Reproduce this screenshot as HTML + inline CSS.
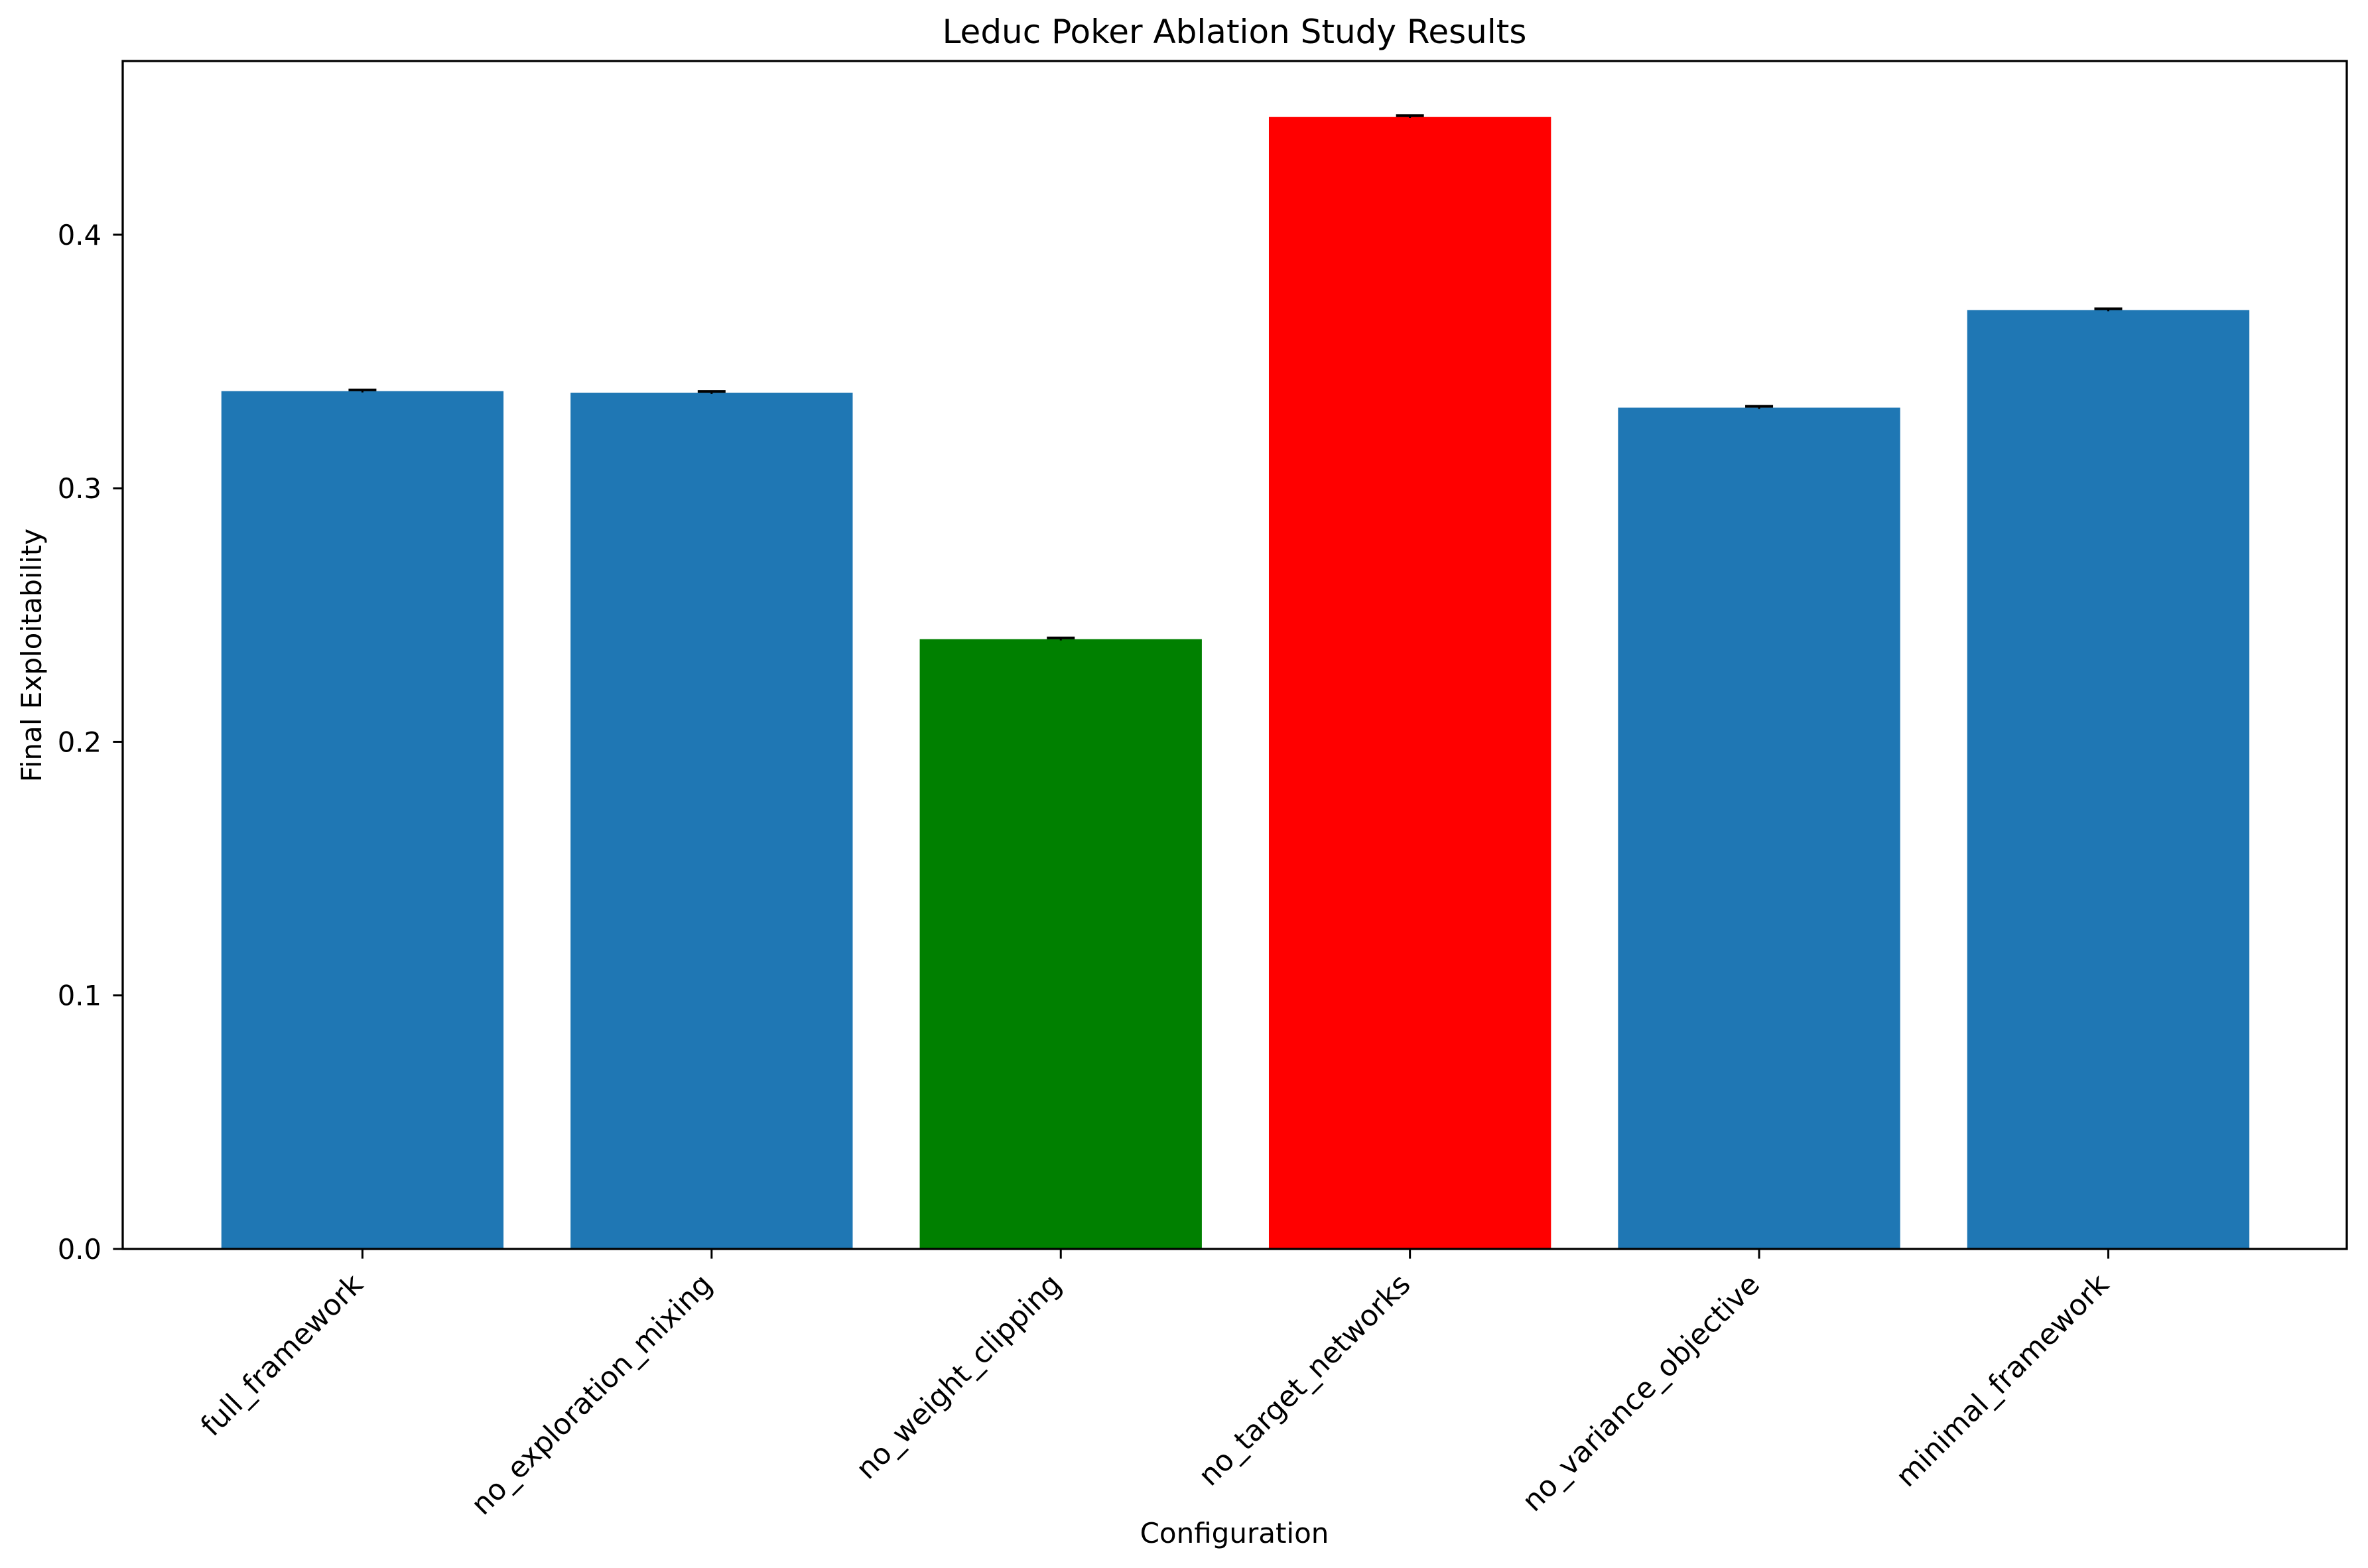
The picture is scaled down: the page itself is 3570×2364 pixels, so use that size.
<!DOCTYPE html>
<html><head><meta charset="utf-8"><style>
html,body{margin:0;padding:0;background:#fff;}
svg{display:block;font-family:"DejaVu Sans","Liberation Sans",sans-serif;}
</style></head><body>
<svg id="chart" width="3570" height="2364" viewBox="0 0 3570 2364" xmlns="http://www.w3.org/2000/svg">
<rect width="3570" height="2364" fill="#fff"/>
<text x="1861" y="65" font-size="50" text-anchor="middle">Leduc Poker Ablation Study Results</text>
<text transform="translate(62,988) rotate(-90)" font-size="42" text-anchor="middle">Final Exploitability</text>
<text x="1861" y="2326" font-size="42" text-anchor="middle">Configuration</text>
<g id="bars"></g>
<g id="yticks"></g>
<g id="xticks"></g>
<rect x="185" y="92" width="3353" height="1791" fill="none" stroke="#000" stroke-width="3.3"/>
</svg>
<script>
const categories = ["full_framework","no_exploration_mixing","no_weight_clipping","no_target_networks","no_variance_objective","minimal_framework"];
const values = [0.3383, 0.3377, 0.2405, 0.4465, 0.3318, 0.3703];
const errors = [0.0005, 0.0005, 0.0005, 0.0005, 0.0005, 0.0005];
const barColors = ["#1f77b4","#1f77b4","green","red","#1f77b4","#1f77b4"];
const yTickValues = [0.0, 0.1, 0.2, 0.3, 0.4];
const yTickLabels = ["0.0","0.1","0.2","0.3","0.4"];

const NS = "http://www.w3.org/2000/svg";
const L = 185, R = 3538, T = 92, B = 1883;
const xMin = -0.6866, xMax = 5.683, yMin = 0, yMax = 0.4685;
function xs(v){ return L + (v - xMin) / (xMax - xMin) * (R - L); }
function ys(v){ return B - (v - yMin) / (yMax - yMin) * (B - T); }
function mk(tag, attrs){ const e = document.createElementNS(NS, tag); for (const k in attrs) e.setAttribute(k, attrs[k]); return e; }

const gb = document.getElementById('bars');
const gx = document.getElementById('xticks');
categories.forEach((c, i) => {
  const x0 = xs(i - 0.404), x1 = xs(i + 0.404);
  const r = mk('rect', {x: x0, y: ys(values[i]), width: x1 - x0, height: ys(0) - ys(values[i]), fill: barColors[i]});
  
  
  gb.appendChild(r);
  const cx = xs(i);
  const el = mk('line', {x1: cx, x2: cx, y1: ys(values[i] - errors[i]), y2: ys(values[i] + errors[i]), stroke: '#000', 'stroke-width': 3});
  
  
  gb.appendChild(el);
  const cap = mk('line', {x1: cx - 21, x2: cx + 21, y1: ys(values[i] + errors[i]), y2: ys(values[i] + errors[i]), stroke: '#000', 'stroke-width': 4});
  
  
  gb.appendChild(cap);
  const tk = mk('line', {x1: cx, x2: cx, y1: B, y2: B + 14.6, stroke: '#000', 'stroke-width': 3});
  
  
  gx.appendChild(tk);
  const t = mk('text', {transform: `translate(${cx - 5},${B + 48}) rotate(-45)`, 'font-size': 43.5, 'text-anchor': 'end', 'dominant-baseline': 'middle'});
  t.textContent = c;
  
  
  gx.appendChild(t);
});
const gy = document.getElementById('yticks');
yTickValues.forEach((v, i) => {
  const y = ys(v);
  const tk = mk('line', {x1: L - 14.6, x2: L, y1: y, y2: y, stroke: '#000', 'stroke-width': 3});
  
  
  gy.appendChild(tk);
  const t = mk('text', {x: 153, y: y + 15, 'font-size': 41.7, 'text-anchor': 'end'});
  t.textContent = yTickLabels[i];
  
  
  gy.appendChild(t);
});
</script>
</body></html>
